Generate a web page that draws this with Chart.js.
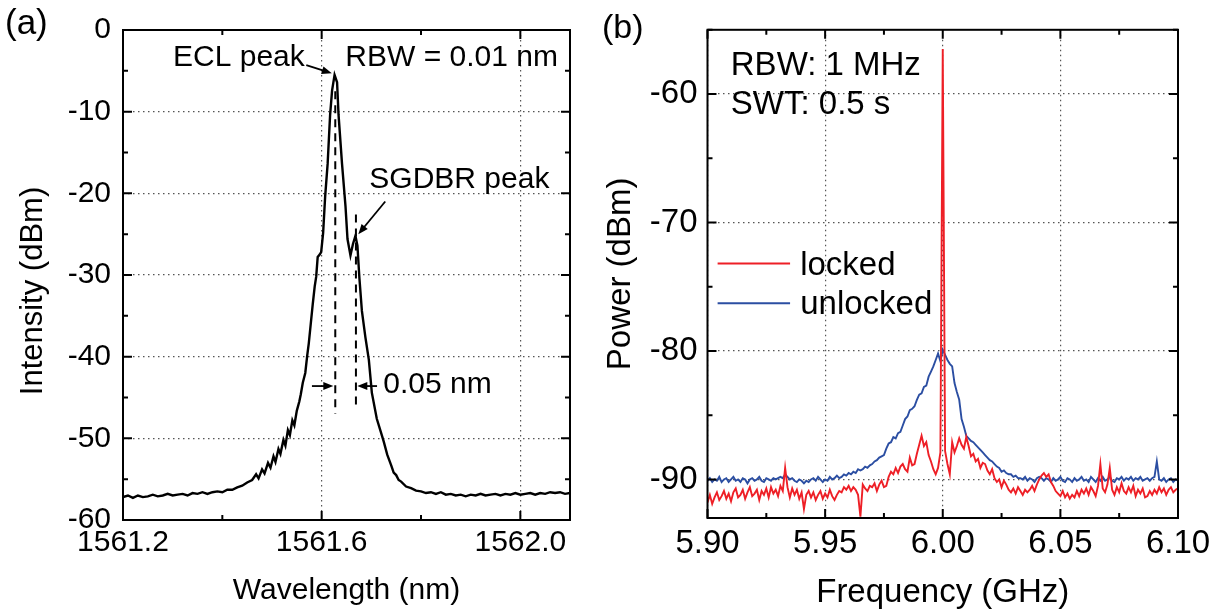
<!DOCTYPE html>
<html>
<head>
<meta charset="utf-8">
<script src="https://cdn.jsdelivr.net/npm/chart.js@4.4.1/dist/chart.umd.min.js"></script>
<style>
  html, body { margin: 0; padding: 0; background: #fff; }
  #wrap { position: relative; width: 1220px; height: 610px; }
  canvas { position: absolute; top: 0; }
  #chartA { left: 0; }
  #chartB { left: 600px; }
</style>
</head>
<body>
<div id="wrap">
  <canvas id="chartA" width="600" height="610"></canvas>
  <canvas id="chartB" width="620" height="610"></canvas>
</div>
<script>
// ---- panel (a): optical spectrum ----
const wavelength = [
  1561.200, 1561.210, 1561.220, 1561.230, 1561.240, 1561.250, 1561.260, 1561.270, 1561.280, 1561.290,
  1561.300, 1561.310, 1561.320, 1561.330, 1561.340, 1561.350, 1561.360, 1561.370, 1561.380, 1561.390,
  1561.400, 1561.410, 1561.420, 1561.430, 1561.440, 1561.450, 1561.460, 1561.468, 1561.473, 1561.480,
  1561.485, 1561.492, 1561.497, 1561.503, 1561.507, 1561.513, 1561.517, 1561.523, 1561.527, 1561.532,
  1561.536, 1561.541, 1561.545, 1561.550, 1561.555, 1561.558, 1561.562, 1561.567, 1561.571, 1561.574,
  1561.578, 1561.582, 1561.586, 1561.589, 1561.592, 1561.596, 1561.599, 1561.603, 1561.607, 1561.612,
  1561.617, 1561.621, 1561.626, 1561.631, 1561.634, 1561.641, 1561.648, 1561.652, 1561.658, 1561.663,
  1561.668, 1561.672, 1561.676, 1561.681, 1561.688, 1561.695, 1561.701, 1561.711, 1561.718, 1561.725,
  1561.732, 1561.740, 1561.745, 1561.750, 1561.755, 1561.760, 1561.770, 1561.780, 1561.790, 1561.800,
  1561.810, 1561.820, 1561.830, 1561.840, 1561.850, 1561.860, 1561.870, 1561.880, 1561.890, 1561.900,
  1561.910, 1561.920, 1561.930, 1561.940, 1561.950, 1561.960, 1561.970, 1561.980, 1561.990, 1562.000,
  1562.010, 1562.020, 1562.030, 1562.040, 1562.050, 1562.060, 1562.070, 1562.080, 1562.090, 1562.100
];
const intensity = [
  -57.2, -57.0, -57.3, -57.0, -57.2, -57.1, -56.9, -57.1, -57.0, -56.8,
  -57.0, -56.9, -56.8, -57.0, -56.7, -56.8, -56.6, -56.8, -56.6, -56.5,
  -56.6, -56.3, -56.3, -56.0, -55.8, -55.4, -55.1, -54.4, -54.9, -53.8,
  -54.3, -53.0, -53.6, -52.2, -52.9, -51.3, -51.9, -50.2, -50.9, -49.0,
  -49.6, -47.8, -48.4, -46.6, -45.5, -44.6, -43.2, -42.0, -39.8, -38.4,
  -36.0, -33.6, -31.4, -30.2, -27.8, -27.5, -27.2, -24.8, -20.4, -16.4,
  -10.4, -7.4, -5.5, -6.4, -10.4, -16.4, -21.6, -25.6, -27.6, -26.2,
  -25.2, -26.4, -30.4, -34.4, -37.6, -40.4, -44.4, -47.6, -49.0, -50.4,
  -52.0, -53.3, -54.2, -54.5, -55.1, -55.3, -55.9, -56.1, -56.4, -56.5,
  -56.7, -56.6, -56.8, -56.6, -56.9, -56.8, -57.0, -56.9, -57.1, -56.9,
  -57.0, -56.8, -57.0, -56.9, -56.8, -57.0, -56.8, -56.9, -56.7, -56.9,
  -56.8, -56.7, -56.9, -56.7, -56.8, -56.6, -56.7, -56.6, -56.8, -56.7
];
const wlTicks = [1561.2, 1561.4, 1561.6, 1561.8, 1562.0];
const wlLabels = [1561.2, 1561.6, 1562.0];
const intTicks = [0, -5, -10, -15, -20, -25, -30, -35, -40, -45, -50, -55, -60];
const intLabels = [0, -10, -20, -30, -40, -50, -60];

// ---- panel (b): beat note, RF spectrum ----
const freqStart = 5.9;
const freqStep = 0.001;
const locked = [
  -91.8, -91.2, -91.9, -91.4, -91.0, -91.6, -91.3, -90.9, -91.5, -91.1,
  -91.7, -91.0, -90.7, -91.4, -91.2, -90.8, -91.5, -91.0, -90.6, -91.3,
  -91.1, -90.8, -91.6, -90.9, -91.2, -90.7, -91.4, -90.6, -91.1, -90.8,
  -91.3, -90.5, -90.9, -89.1, -90.6, -91.4, -90.7, -91.2, -90.8, -91.5,
  -91.0, -92.3, -91.2, -90.9, -91.4, -91.0, -91.6, -91.2, -90.9, -91.5,
  -91.1, -91.4, -90.8, -91.3, -91.6, -91.2, -90.9, -91.0, -90.6, -90.8,
  -90.5, -90.9, -90.6, -90.8, -91.2, -92.9, -90.4, -90.7, -90.9, -90.5,
  -90.6, -90.3, -90.9, -90.4, -90.1, -90.6, -90.5, -89.8, -89.4, -89.6,
  -89.1, -89.5, -89.0, -88.8, -89.2, -89.4, -88.3, -88.9, -88.8, -88.0,
  -87.3, -86.6, -87.4, -87.1, -88.1, -88.6, -89.2, -89.6, -89.1, -87.9,
  -56.5, -87.8, -88.8, -89.6, -87.1, -87.9, -87.4, -86.8, -87.3, -87.6,
  -86.7, -87.4, -88.2, -88.0, -88.6, -88.4, -89.1, -88.7, -88.8, -89.3,
  -89.6, -89.2, -89.9, -90.2, -90.0, -90.6, -90.1, -90.4, -90.8, -91.0,
  -90.7, -91.1, -90.6, -90.9, -91.2, -90.8, -91.0, -90.8, -90.5, -90.9,
  -90.4, -90.0, -89.7, -89.5, -89.8, -89.6, -90.2, -90.5, -90.9, -91.1,
  -91.3, -90.9, -91.4, -91.1, -91.5, -91.2, -91.4, -90.9, -91.3, -90.8,
  -91.1, -90.7, -91.2, -90.6, -90.9, -91.3, -90.5, -88.8, -90.7, -91.0,
  -90.4, -89.1, -90.8, -91.2, -90.6, -91.0, -90.3, -90.9, -91.1, -90.6,
  -91.0, -90.5, -91.3, -90.8, -91.1, -90.7, -91.4, -91.3, -90.9, -91.2,
  -90.8, -91.1, -90.6, -91.0, -90.7, -91.2, -90.8, -90.6, -91.0, -90.8,
  -90.7
];
const unlocked = [
  -90.1, -89.9, -90.2, -90.0, -90.1, -89.8, -90.2, -90.0, -89.9, -90.2,
  -90.0, -89.8, -90.1, -90.0, -90.2, -89.9, -90.0, -90.3, -90.0, -89.9,
  -90.1, -90.0, -89.8, -90.1, -90.2, -89.9, -90.0, -90.1, -89.9, -90.0,
  -89.9, -89.8, -89.9, -89.6, -89.8, -90.0, -89.9, -90.1, -90.2, -90.0,
  -90.1, -90.3, -90.1, -90.2, -90.0, -89.9, -90.1, -89.8, -90.0, -90.2,
  -90.0, -90.1, -89.8, -90.0, -89.9, -89.7, -89.9, -89.8, -89.6, -89.7,
  -89.5, -89.6, -89.4, -89.5, -89.2, -89.3, -89.2, -89.0, -89.1, -88.9,
  -88.8, -88.6, -88.5, -88.3, -88.2, -88.1, -87.6, -87.2, -87.1, -86.7,
  -86.8, -86.4, -86.3, -85.8, -85.3, -85.1, -84.6, -84.5, -84.3, -83.8,
  -83.4, -83.3, -82.8, -82.7, -82.0, -81.6, -81.2, -80.7, -80.2, -80.8,
  -79.9, -80.3, -80.7, -81.0, -81.2, -82.5, -83.2, -83.8, -85.3, -85.9,
  -86.6, -86.8, -87.0, -87.1, -87.3, -87.5, -87.7, -87.9, -88.1, -88.3,
  -88.5, -88.6, -88.8, -89.0, -89.1, -89.4, -89.3, -89.5, -89.6, -89.6,
  -89.8, -89.7, -89.9, -89.9, -90.0, -89.8, -90.1, -89.9, -90.0, -90.2,
  -89.9, -89.8, -89.9, -90.1, -89.9, -90.0, -90.2, -89.9, -90.1, -90.0,
  -89.8, -90.1, -90.2, -89.9, -90.0, -90.2, -89.9, -90.1, -90.0, -89.8,
  -90.1, -90.0, -90.2, -89.8, -90.0, -90.2, -89.9, -90.1, -89.8, -90.1,
  -90.0, -89.8, -90.1, -90.2, -89.9, -90.0, -89.8, -90.1, -89.9, -90.0,
  -89.8, -90.1, -89.9, -90.0, -89.8, -90.1, -90.0, -89.9, -90.1, -89.9,
  -89.8, -88.6, -90.0, -90.1, -89.9, -90.2, -90.0, -89.9, -90.2, -90.0,
  -90.1
];
const freqTicks = [5.9, 5.925, 5.95, 5.975, 6.0, 6.025, 6.05, 6.075, 6.1];
const freqLabels = [5.9, 5.95, 6.0, 6.05, 6.1];
const powTicks = [-55, -60, -65, -70, -75, -80, -85, -90];
const powLabels = [-60, -70, -80, -90];

const FONT = '"Liberation Sans", Arial, sans-serif';
Chart.defaults.font.family = FONT;
Chart.defaults.color = '#000';

const isIn = (list, v) => list.some(t => Math.abs(t - v) < 1e-6);

// box with inward ticks on all four sides
function makeFrame(xTicks, xLabels, yTicks, yLabels) {
  return {
    id: 'frame',
    afterDatasetsDraw(chart) {
      const { ctx, chartArea: a, scales: { x, y } } = chart;
      ctx.save();
      ctx.strokeStyle = '#000';
      ctx.lineWidth = 2;
      ctx.beginPath();
      xTicks.forEach(v => {
        const px = x.getPixelForValue(v);
        const len = isIn(xLabels, v) ? 9 : 5;
        ctx.moveTo(px, a.bottom); ctx.lineTo(px, a.bottom - len);
        ctx.moveTo(px, a.top); ctx.lineTo(px, a.top + len);
      });
      yTicks.forEach(v => {
        const py = y.getPixelForValue(v);
        const len = isIn(yLabels, v) ? 9 : 5;
        ctx.moveTo(a.left, py); ctx.lineTo(a.left + len, py);
        ctx.moveTo(a.right, py); ctx.lineTo(a.right - len, py);
      });
      ctx.stroke();
      ctx.strokeRect(a.left, a.top, a.right - a.left, a.bottom - a.top);
      ctx.restore();
    }
  };
}

function arrow(ctx, x1, y1, x2, y2) {
  const ang = Math.atan2(y2 - y1, x2 - x1);
  const hl = 10, hw = 4;
  const c = Math.cos(ang), s = Math.sin(ang);
  ctx.beginPath();
  ctx.moveTo(x1, y1);
  ctx.lineTo(x2 - hl * c * 0.7, y2 - hl * s * 0.7);
  ctx.stroke();
  ctx.beginPath();
  ctx.moveTo(x2, y2);
  ctx.lineTo(x2 - hl * c + hw * s, y2 - hl * s - hw * c);
  ctx.lineTo(x2 - hl * c - hw * s, y2 - hl * s + hw * c);
  ctx.closePath();
  ctx.fill();
}

const notesA = {
  id: 'notesA',
  afterDraw(chart) {
    const { ctx, scales: { x, y } } = chart;
    const X = v => x.getPixelForValue(v), Y = v => y.getPixelForValue(v);
    ctx.save();
    ctx.fillStyle = '#000';
    ctx.strokeStyle = '#000';
    ctx.font = '35px ' + FONT;
    ctx.textBaseline = 'middle';
    ctx.fillText('(a)', 5, 24);

    // y title sits a bit below the middle of the axis in the original
    ctx.save();
    ctx.translate(33, 291);
    ctx.rotate(-Math.PI / 2);
    ctx.textAlign = 'center';
    ctx.font = '31px ' + FONT;
    ctx.fillText('Intensity (dBm)', 0, 0);
    ctx.restore();

    ctx.font = '30px ' + FONT;
    ctx.textBaseline = 'alphabetic';
    ctx.textAlign = 'right';
    ctx.fillText('ECL peak', X(1561.566), Y(-4.4));
    ctx.textAlign = 'left';
    ctx.fillText('RBW = 0.01 nm', X(1561.6476), Y(-4.4));
    ctx.fillText('SGDBR peak', X(1561.696), Y(-19.4));
    ctx.fillText('0.05 nm', X(1561.7242), Y(-44.5));

    // peak markers
    ctx.lineWidth = 2;
    ctx.setLineDash([8, 6]);
    ctx.beginPath();
    ctx.moveTo(X(1561.6274), Y(-7.5)); ctx.lineTo(X(1561.6274), Y(-47.0));
    ctx.moveTo(X(1561.669), Y(-22.6)); ctx.lineTo(X(1561.669), Y(-46.3));
    ctx.stroke();
    ctx.setLineDash([]);

    ctx.lineWidth = 1.8;
    arrow(ctx, X(1561.569), Y(-4.3), X(1561.6204), Y(-5.3));
    arrow(ctx, X(1561.728), Y(-21.0), X(1561.6738), Y(-25.0));
    arrow(ctx, X(1561.5804), Y(-43.6), X(1561.6234), Y(-43.6));
    arrow(ctx, X(1561.7115), Y(-43.6), X(1561.6718), Y(-43.6));
    ctx.restore();
  }
};

const notesB = {
  id: 'notesB',
  afterDraw(chart) {
    const { ctx, scales: { x, y } } = chart;
    const X = v => x.getPixelForValue(v), Y = v => y.getPixelForValue(v);
    ctx.save();
    ctx.fillStyle = '#000';
    ctx.font = '34px ' + FONT;
    ctx.textBaseline = 'middle';
    ctx.fillText('(b)', 2, 29);

    ctx.font = '33px ' + FONT;
    ctx.textBaseline = 'alphabetic';
    ctx.fillText('RBW: 1 MHz', X(5.9099), Y(-58.52));
    ctx.fillText('SWT: 0.5 s', X(5.9099), Y(-61.53));

    // legend
    const rows = [-73.2, -76.28];
    chart.data.datasets.forEach((ds, i) => {
      ctx.strokeStyle = ds.borderColor;
      ctx.lineWidth = 2;
      ctx.beginPath();
      ctx.moveTo(X(5.9043), Y(rows[i]));
      ctx.lineTo(X(5.9351), Y(rows[i]));
      ctx.stroke();
      ctx.fillStyle = '#000';
      ctx.fillText(ds.label, X(5.9394), Y(rows[i]) + 11);
    });
    ctx.restore();
  }
};

const dotted = [1.5, 3.5];

new Chart(document.getElementById('chartA'), {
  type: 'line',
  data: {
    datasets: [{
      label: 'spectrum',
      data: wavelength.map((w, i) => ({ x: w, y: intensity[i] })),
      borderColor: '#000',
      borderWidth: 2.4,
      pointRadius: 0,
      tension: 0
    }]
  },
  options: {
    responsive: false,
    animation: false,
    layout: { padding: { top: 20, right: 30, left: 0, bottom: 0 } },
    plugins: { legend: { display: false }, tooltip: { enabled: false } },
    scales: {
      x: {
        type: 'linear',
        min: 1561.2,
        max: 1562.1,
        afterBuildTicks: s => { s.ticks = wlTicks.map(v => ({ value: v })); },
        afterFit: s => { s.height = 90; },
        ticks: {
          autoSkip: false, maxRotation: 0, padding: 5,
          font: { size: 30 },
          callback: v => isIn(wlLabels, v) ? v.toFixed(1) : ''
        },
        grid: {
          drawTicks: false,
          lineWidth: 1.2,
          color: c => (c.tick && isIn(wlLabels, c.tick.value)) ? '#555' : 'rgba(0,0,0,0)'
        },
        border: { display: false, dash: dotted },
        title: { display: true, text: 'Wavelength (nm)', font: { size: 30, lineHeight: 1 }, padding: { top: 0, bottom: 4 } }
      },
      y: {
        type: 'linear',
        min: -60,
        max: 0,
        afterBuildTicks: s => { s.ticks = intTicks.map(v => ({ value: v })); },
        afterFit: s => { s.width = 123; },
        ticks: {
          autoSkip: false, padding: 12,
          font: { size: 30 },
          callback: v => isIn(intLabels, v) ? String(v) : ''
        },
        grid: {
          drawTicks: false,
          lineWidth: 1.2,
          color: c => (c.tick && isIn(intLabels, c.tick.value)) ? '#555' : 'rgba(0,0,0,0)'
        },
        border: { display: false, dash: dotted }
      }
    }
  },
  plugins: [makeFrame(wlTicks, wlLabels, intTicks, intLabels), notesA]
});

const freq = locked.map((_, i) => +(freqStart + i * freqStep).toFixed(3));

new Chart(document.getElementById('chartB'), {
  type: 'line',
  data: {
    datasets: [
      {
        label: 'locked',
        data: freq.map((f, i) => ({ x: f, y: locked[i] })),
        borderColor: '#ee1f26',
        borderWidth: 1.9,
        pointRadius: 0,
        tension: 0
      },
      {
        label: 'unlocked',
        data: freq.map((f, i) => ({ x: f, y: unlocked[i] })),
        borderColor: '#2b4ea2',
        borderWidth: 1.9,
        pointRadius: 0,
        tension: 0
      }
    ]
  },
  options: {
    responsive: false,
    animation: false,
    layout: { padding: { top: 22, right: 42, left: 0, bottom: 0 } },
    plugins: { legend: { display: false }, tooltip: { enabled: false } },
    scales: {
      x: {
        type: 'linear',
        min: 5.9,
        max: 6.1,
        afterBuildTicks: s => { s.ticks = freqTicks.map(v => ({ value: v })); },
        afterFit: s => { s.height = 92; },
        ticks: {
          autoSkip: false, maxRotation: 0, padding: 6,
          font: { size: 33 },
          callback: v => isIn(freqLabels, v) ? v.toFixed(2) : ''
        },
        grid: {
          drawTicks: false,
          lineWidth: 1.2,
          color: c => (c.tick && isIn(freqLabels, c.tick.value)) ? '#555' : 'rgba(0,0,0,0)'
        },
        border: { display: false, dash: dotted },
        title: { display: true, text: 'Frequency (GHz)', font: { size: 33, lineHeight: 1 }, padding: { top: 0, bottom: 1 } }
      },
      y: {
        type: 'linear',
        min: -93,
        max: -55,
        afterBuildTicks: s => { s.ticks = powTicks.map(v => ({ value: v })); },
        afterFit: s => { s.width = 107.5; },
        ticks: {
          autoSkip: false, padding: 10,
          font: { size: 33 },
          callback: v => isIn(powLabels, v) ? String(v) : ''
        },
        grid: {
          drawTicks: false,
          lineWidth: 1.2,
          color: c => (c.tick && isIn(powLabels, c.tick.value)) ? '#555' : 'rgba(0,0,0,0)'
        },
        border: { display: false, dash: dotted },
        title: { display: true, text: 'Power (dBm)', font: { size: 33, lineHeight: 1 }, padding: { top: 4, bottom: 0 } }
      }
    }
  },
  plugins: [makeFrame(freqTicks, freqLabels, powTicks, powLabels), notesB]
});
</script>
</body>
</html>
